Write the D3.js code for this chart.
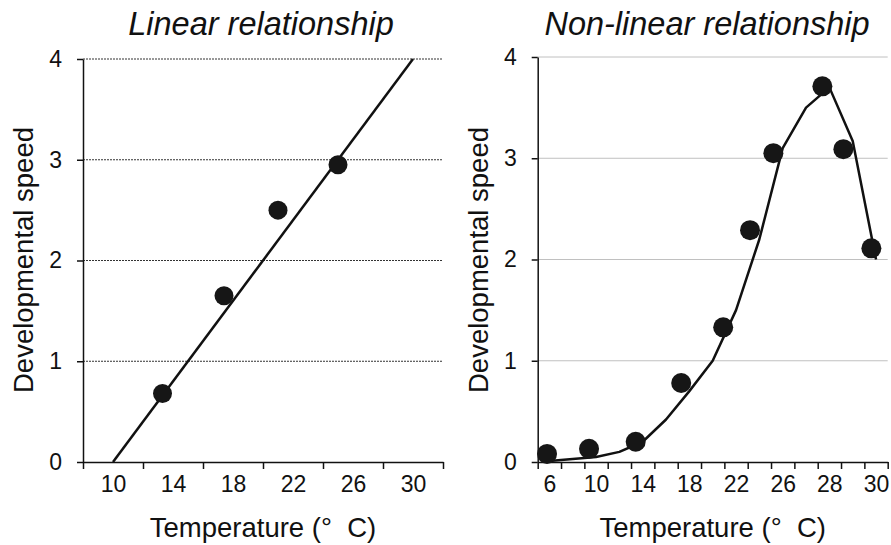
<!DOCTYPE html>
<html>
<head>
<meta charset="utf-8">
<script src="https://cdn.jsdelivr.net/npm/d3@7"></script>
<style>
  body { margin: 0; background: #fff; }
  svg { display: block; font-family: "Liberation Sans", Arial, sans-serif; }
  .axis path, .axis line { stroke: #111; stroke-width: 1.5px; }
  .axis text { font-size: 23px; fill: #111; }
</style>
</head>
<body>
<svg id="chart" width="891" height="545"></svg>
<script>
// left panel: measured points + fitted straight line
let linTemp  = [13.3, 17.4, 21, 25];
let linSpeed = [0.68, 1.65, 2.5, 2.95];
let linFit   = [[10, 0], [30, 4]];
let linTickLabels = [10, 14, 18, 22, 26, 30];
let linTickBounds = [8, 12, 16, 20, 24, 28, 32];

// right panel: measured points + model curve (category axis in Excel)
let nlTemp  = [5.8, 9.4, 13.4, 17.3, 20.9, 23.2, 25.2, 27.7, 28.6, 29.8];
let nlSpeed = [0.08, 0.13, 0.2, 0.78, 1.33, 2.29, 3.05, 3.71, 3.09, 2.11];
let nlCurveTemp  = [6, 8, 10, 12, 14, 16, 18, 20, 22, 24, 26, 27, 28, 29, 30];
let nlCurveSpeed = [0.01, 0.03, 0.05, 0.1, 0.2, 0.42, 0.7, 1.0, 1.5, 2.2, 3.1, 3.5, 3.7, 3.17, 2.0];
let nlTickLabels = [6, 10, 14, 18, 22, 26, 28, 30];
let nlTickBounds = [5, 7, 9, 11, 13, 15, 17, 19, 21, 23, 25, 26.5, 27.5, 28.5, 29.5, 30.5];

let yTicks = [0, 1, 2, 3, 4];

let chart = d3.select("#chart");

function panel(opt) {
    let g = chart.append("g");
    let x = opt.x;
    let y = d3.scaleLinear().domain([0, 4]).range([462, opt.top]);
    let x0 = x.range()[0], x1 = x.range()[x.range().length - 1];

    // gridlines
    g.selectAll("line.grid")
        .data(yTicks.filter(function(d) { return d > 0; }))
        .enter().append("line")
        .attr("class", "grid")
        .attr("x1", x0).attr("x2", x1)
        .attr("y1", function(d) { return y(d); })
        .attr("y2", function(d) { return y(d); })
        .attr("stroke", opt.gridColor)
        .attr("stroke-width", 1)
        .attr("stroke-dasharray", opt.gridDash);

    // x tick marks at category boundaries
    g.append("g")
        .attr("class", "axis")
        .attr("transform", "translate(0,462)")
        .call(d3.axisBottom(x).tickValues(opt.bounds).tickSize(7).tickSizeOuter(0).tickFormat(""));
    // x labels at category centres
    let xl = g.append("g")
        .attr("class", "axis")
        .attr("transform", "translate(0,462)")
        .call(d3.axisBottom(x).tickValues(opt.labels).tickSize(0).tickPadding(14));
    xl.select(".domain").remove();

    g.append("g")
        .attr("class", "axis")
        .attr("transform", "translate(" + x0 + ",0)")
        .call(d3.axisLeft(y).tickValues(yTicks).tickSize(6).tickSizeOuter(0).tickPadding(15).tickFormat(d3.format("d")));

    // line
    let line = d3.line()
        .x(function(d) { return x(d[0]); })
        .y(function(d) { return y(d[1]); });
    g.append("path")
        .datum(opt.line)
        .attr("d", line)
        .attr("fill", "none")
        .attr("stroke", "#111")
        .attr("stroke-width", 2.5)
        .attr("stroke-linejoin", "round");

    // points
    g.selectAll("circle")
        .data(opt.pts)
        .enter().append("circle")
        .attr("cx", function(d) { return x(d[0]); })
        .attr("cy", function(d) { return y(d[1]); })
        .attr("r", opt.r)
        .attr("fill", "#161616");

    // titles
    let cx = (x0 + x1) / 2;
    g.append("text")
        .text(opt.title)
        .attr("x", opt.titleX)
        .attr("y", 35)
        .style("font-size", "32.5px")
        .style("font-style", "italic")
        .style("text-anchor", "middle")
        .style("fill", "#111");
    g.append("text")
        .text("Temperature (°  C)")
        .attr("x", cx)
        .attr("y", 537)
        .style("white-space", "pre")
        .style("font-size", "27.5px")
        .style("text-anchor", "middle")
        .style("fill", "#111");
    g.append("text")
        .text("Developmental speed")
        .attr("transform", "rotate(-90)")
        .attr("x", -260)
        .attr("y", x0 - 50)
        .style("font-size", "27.5px")
        .style("text-anchor", "middle")
        .style("fill", "#111");
}

panel({
    x: d3.scaleLinear().domain([8, 32]).range([83, 443]),
    top: 59,
    bounds: linTickBounds,
    labels: linTickLabels,
    line: linFit,
    pts: linTemp.map(function(d, i) { return [d, linSpeed[i]]; }),
    r: 9.5,
    gridColor: "#333",
    gridDash: "2,1",
    title: "Linear relationship",
    titleX: 261
});

panel({
    // piecewise: 2 °C per category up to 26, then 1 °C per category
    x: d3.scaleLinear().domain([5, 26, 30.5]).range([537.7, 782.7, 887.7]),
    top: 57,
    bounds: nlTickBounds,
    labels: nlTickLabels,
    line: nlCurveTemp.map(function(d, i) { return [d, nlCurveSpeed[i]]; }),
    pts: nlTemp.map(function(d, i) { return [d, nlSpeed[i]]; }),
    r: 10,
    gridColor: "#c0c0c0",
    gridDash: null,
    title: "Non-linear relationship",
    titleX: 707
});
</script>
</body>
</html>
